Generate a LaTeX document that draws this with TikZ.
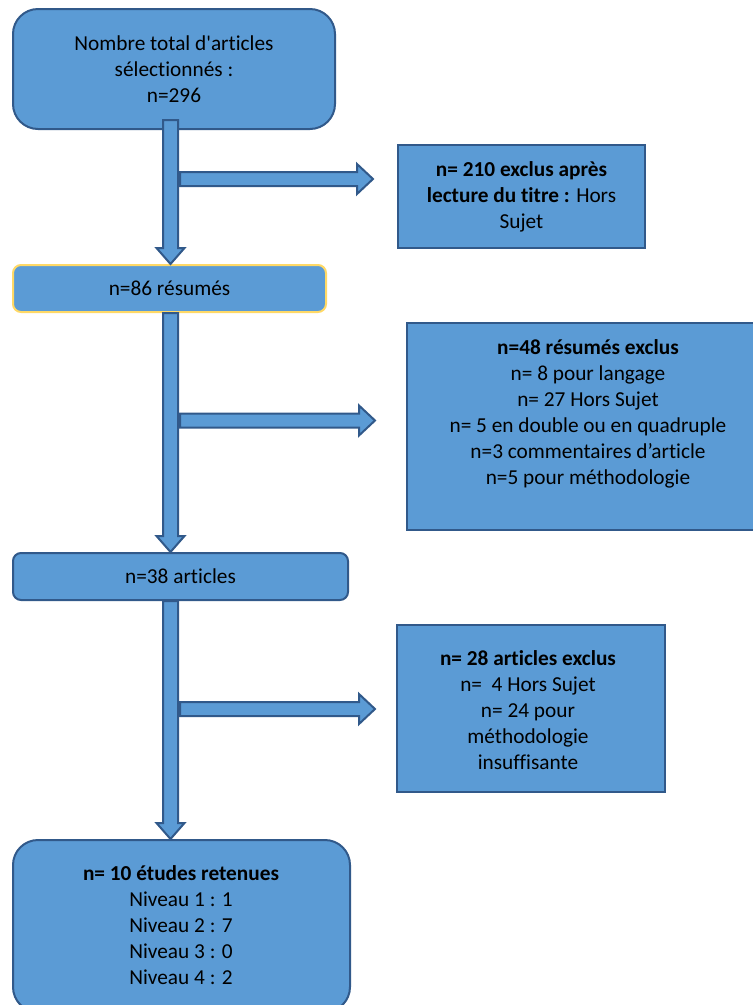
\documentclass[tikz,border=0pt]{standalone}
\usepackage{fontspec}
\setmainfont[Ligatures={TeXOff,NoCommon}]{Carlito}
\usetikzlibrary{calc}
\definecolor{boxblue}{HTML}{5B9BD5}
\definecolor{boxline}{HTML}{31598A}
\definecolor{boxgold}{HTML}{FFD966}

% block arrows
\newcommand{\flowdown}[2]{%
  \draw[flowarrow] let \p1=(#1), \p2=(#2) in
    (\x1-7.5pt,\y1) -- (\x1-7.5pt,\y2+16pt) -- (\x1-14pt,\y2+16pt) -- (\x1,\y2)
    -- (\x1+14pt,\y2+16pt) -- (\x1+7.5pt,\y2+16pt) -- (\x1+7.5pt,\y1) -- cycle;}
\newcommand{\flowright}[2]{%
  \draw[flowarrow] let \p1=(#1), \p2=(#2) in
    (\x1,\y1+7pt) -- (\x2-16pt,\y1+7pt) -- (\x2-16pt,\y1+15pt) -- (\x2,\y1)
    -- (\x2-16pt,\y1-15pt) -- (\x2-16pt,\y1-7pt) -- (\x1,\y1-7pt) -- cycle;}

\begin{document}
\begin{tikzpicture}[x=1pt,y=-1pt,
    txt/.style={font=\fontsize{21.3}{26}\selectfont, align=center, inner sep=0pt},
    flowbox/.style={draw=boxline, fill=boxblue, line width=2pt, txt},
    flowarrow/.style={draw=boxline, fill=boxblue, line width=2pt, line join=miter}]
            \useasboundingbox (0,0) rectangle (753,1005);
            % Selection steps
            \node[flowbox, rounded corners=25, minimum width=322, minimum height=120] (total) at (174,69) {Nombre total d'articles\\sélectionnés :\\n=296};
            \node[flowbox, draw=boxgold, rounded corners=8, minimum width=313, minimum height=47] (res) at (169.5,288.5) {n=86 résumés};
            \node[flowbox, rounded corners=8, minimum width=335, minimum height=47] (art) at (180.5,576.5) {n=38 articles};
            \node[flowbox, rounded corners=25, minimum width=337, minimum height=172] (final) at (181.5,926) {};
            \node[txt] (finaltxt) at (181,925) {\textbf{n= 10 études retenues}\\Niveau 1 : 1\\Niveau 2 : 7\\Niveau 3 : 0\\Niveau 4 : 2};

            % Exclusions
            \node[flowbox, minimum width=247, minimum height=103] (ex1) at (521.5,196.5) {\textbf{n= 210 exclus après}\\\textbf{lecture du titre :} Hors\\Sujet};
            \node[flowbox, minimum width=352, minimum height=207] (ex2) at (583,426.5) {};
            \node[txt] (ex2txt) at (588,414) {\textbf{n=48 résumés exclus}\\n= 8 pour langage\\n= 27 Hors Sujet\\n= 5 en double ou en quadruple\\n=3 commentaires d’article\\n=5 pour méthodologie};
            \node[flowbox, minimum width=268, minimum height=167] (ex3) at (531,708.5) {};
            \node[txt] (ex3txt) at (528,710) {\textbf{n= 28 articles exclus}\\n=\ \ 4 Hors Sujet\\n= 24 pour\\méthodologie\\insuffisante};

            \coordinate (spine) at (170.5,0);
            \coordinate (b1) at (180,179);
            \coordinate (t1) at (373,179);
            \coordinate (b2) at (180,420.5);
            \coordinate (t2) at (375,420.5);
            \coordinate (b3) at (180,709);
            \coordinate (t3) at (375,709);

            \flowdown{$(total.south -| spine)+(0,-10)$}{res.north -| spine}
            \flowdown{res.south -| spine}{art.north -| spine}
            \flowdown{art.south -| spine}{final.north -| spine}
            \flowright{b1}{t1}
            \flowright{b2}{t2}
            \flowright{b3}{t3}
        \end{tikzpicture}
\end{document}
